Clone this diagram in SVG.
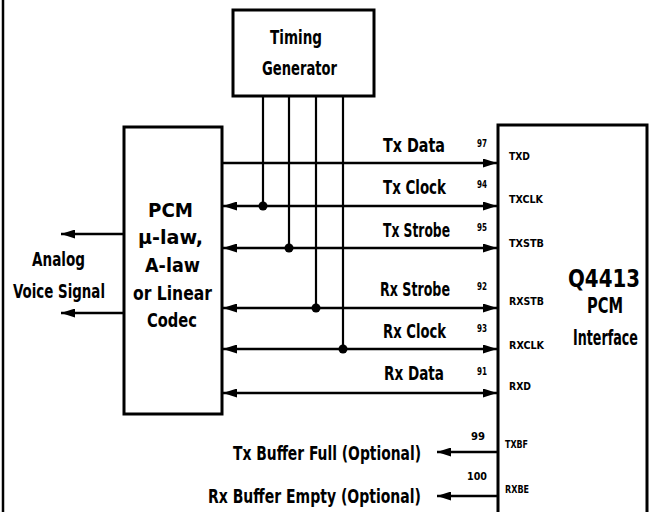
<svg xmlns="http://www.w3.org/2000/svg" width="650" height="512" viewBox="0 0 650 512">
<defs>
<style>
.box{fill:#fff;stroke:#000;stroke-width:3}
.ln{fill:none;stroke:#000;stroke-width:2.6}
.vl{fill:none;stroke:#000;stroke-width:2.2}
text{font-family:"DejaVu Sans Condensed","Liberation Sans",sans-serif;font-weight:bold;fill:#000}
.big{font-size:20px}
.pin{font-size:11px}
.num{font-size:11px}
</style>
<marker id="ah" viewBox="0 0 14 9" refX="14" refY="4.5" markerWidth="14" markerHeight="9" markerUnits="userSpaceOnUse" orient="auto-start-reverse">
<path d="M0,0 L14,4.5 L0,9 Z" fill="#000"/>
</marker>
</defs>
<rect width="650" height="512" fill="#fff"/>
<line x1="3" y1="0" x2="3" y2="512" stroke="#000" stroke-width="2.5"/>

<g id="timing">
<rect class="box" x="233" y="10" width="141" height="86"/>
<text class="big" x="270" y="44" font-size="22" textLength="52" lengthAdjust="spacingAndGlyphs">Timing</text>
<text class="big" x="262" y="75" font-size="22" textLength="75" lengthAdjust="spacingAndGlyphs">Generator</text>
</g>

<g id="codec">
<rect class="box" x="124" y="127" width="98" height="287"/>
<text class="big" x="148" y="217" textLength="45" lengthAdjust="spacingAndGlyphs">PCM</text>
<text class="big" x="138" y="244" textLength="65" lengthAdjust="spacingAndGlyphs">μ-law,</text>
<text class="big" x="145" y="272" textLength="55" lengthAdjust="spacingAndGlyphs">A-law</text>
<text class="big" x="133" y="300" textLength="79" lengthAdjust="spacingAndGlyphs">or Linear</text>
<text class="big" x="147" y="327" textLength="50" lengthAdjust="spacingAndGlyphs">Codec</text>
</g>

<g id="q4413">
<path class="box" d="M498,514 L498,125 L647,125 L647,514"/>
<text x="568" y="287" font-size="25" textLength="72" lengthAdjust="spacingAndGlyphs">Q4413</text>
<text x="587" y="313" font-size="22" textLength="36" lengthAdjust="spacingAndGlyphs">PCM</text>
<text x="573" y="345" font-size="22" textLength="65" lengthAdjust="spacingAndGlyphs">Interface</text>
<text class="pin" x="509" y="160" textLength="21" lengthAdjust="spacingAndGlyphs">TXD</text>
<text class="pin" x="509" y="203" textLength="34" lengthAdjust="spacingAndGlyphs">TXCLK</text>
<text class="pin" x="509" y="247" textLength="35" lengthAdjust="spacingAndGlyphs">TXSTB</text>
<text class="pin" x="509" y="305" textLength="35" lengthAdjust="spacingAndGlyphs">RXSTB</text>
<text class="pin" x="509" y="349" textLength="35" lengthAdjust="spacingAndGlyphs">RXCLK</text>
<text class="pin" x="509" y="390" textLength="22" lengthAdjust="spacingAndGlyphs">RXD</text>
<text class="pin" x="505" y="448" textLength="23" lengthAdjust="spacingAndGlyphs">TXBF</text>
<text class="pin" x="505" y="493" textLength="24" lengthAdjust="spacingAndGlyphs">RXBE</text>
</g>

<g id="connectors">
<line class="vl" x1="263" y1="96" x2="263" y2="206"/>
<line class="vl" x1="289" y1="96" x2="289" y2="248"/>
<line class="vl" x1="316" y1="96" x2="316" y2="308"/>
<line class="vl" x1="343" y1="96" x2="343" y2="349"/>
<line class="ln" x1="222" y1="163" x2="497" y2="163" marker-end="url(#ah)"/>
<line class="ln" x1="223" y1="206" x2="497" y2="206" marker-start="url(#ah)" marker-end="url(#ah)"/>
<line class="ln" x1="223" y1="248" x2="497" y2="248" marker-start="url(#ah)" marker-end="url(#ah)"/>
<line class="ln" x1="223" y1="308" x2="497" y2="308" marker-start="url(#ah)" marker-end="url(#ah)"/>
<line class="ln" x1="223" y1="349" x2="497" y2="349" marker-start="url(#ah)" marker-end="url(#ah)"/>
<line class="ln" x1="223" y1="393" x2="497" y2="393" marker-start="url(#ah)" marker-end="url(#ah)"/>
<circle cx="263" cy="206" r="4.5"/>
<circle cx="289" cy="248" r="4.5"/>
<circle cx="316" cy="308" r="4.5"/>
<circle cx="343" cy="349" r="4.5"/>
<line class="ln" x1="124" y1="234" x2="61" y2="234" marker-end="url(#ah)"/>
<line class="ln" x1="124" y1="313" x2="61" y2="313" marker-end="url(#ah)"/>
<line class="ln" x1="498" y1="452" x2="437" y2="452" marker-end="url(#ah)"/>
<line class="ln" x1="498" y1="496" x2="437" y2="496" marker-end="url(#ah)"/>
</g>

<g id="labels">
<text class="big" x="383" y="152" textLength="62" lengthAdjust="spacingAndGlyphs">Tx Data</text>
<text class="big" x="383" y="194" textLength="63" lengthAdjust="spacingAndGlyphs">Tx Clock</text>
<text class="big" x="383" y="237" textLength="67" lengthAdjust="spacingAndGlyphs">Tx Strobe</text>
<text class="big" x="380" y="296" textLength="70" lengthAdjust="spacingAndGlyphs">Rx Strobe</text>
<text class="big" x="383" y="338" textLength="63" lengthAdjust="spacingAndGlyphs">Rx Clock</text>
<text class="big" x="384" y="380" textLength="60" lengthAdjust="spacingAndGlyphs">Rx Data</text>
<text class="num" x="477" y="147" textLength="10" lengthAdjust="spacingAndGlyphs">97</text>
<text class="num" x="477" y="188" textLength="10" lengthAdjust="spacingAndGlyphs">94</text>
<text class="num" x="477" y="231" textLength="10" lengthAdjust="spacingAndGlyphs">95</text>
<text class="num" x="477" y="290" textLength="10" lengthAdjust="spacingAndGlyphs">92</text>
<text class="num" x="477" y="332" textLength="10" lengthAdjust="spacingAndGlyphs">93</text>
<text class="num" x="477" y="375" textLength="10" lengthAdjust="spacingAndGlyphs">91</text>
<text class="num" x="471" y="440" textLength="14" lengthAdjust="spacingAndGlyphs">99</text>
<text class="num" x="467" y="480" textLength="20" lengthAdjust="spacingAndGlyphs">100</text>
<text class="big" x="32" y="266" textLength="53" lengthAdjust="spacingAndGlyphs">Analog</text>
<text class="big" x="13" y="298" textLength="92" lengthAdjust="spacingAndGlyphs">Voice Signal</text>
<text class="big" x="233" y="460" textLength="188" lengthAdjust="spacingAndGlyphs">Tx Buffer Full (Optional)</text>
<text class="big" x="208" y="503" textLength="213" lengthAdjust="spacingAndGlyphs">Rx Buffer Empty (Optional)</text>
</g>
</svg>
